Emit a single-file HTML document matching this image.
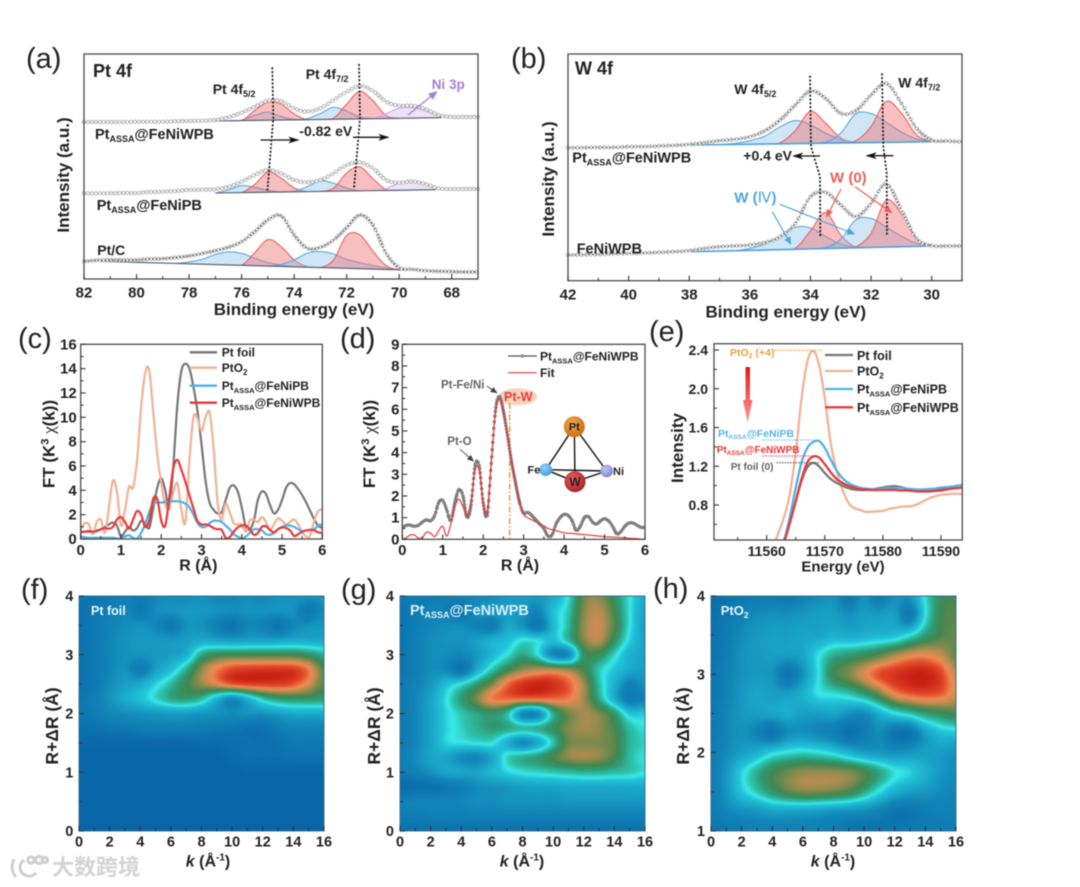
<!DOCTYPE html>
<html lang="en">
<head>
<meta charset="utf-8">
<title>XPS and XAFS characterisation figure</title>
<style>
html,body{margin:0;padding:0;background:#fff;}
#figure{position:relative;width:1080px;height:887px;overflow:hidden;background:#fff;filter:blur(.45px);}
#figure canvas{position:absolute;display:block;}
#figure svg{position:absolute;left:0;top:0;}
text{font-family:"Liberation Sans","Noto Sans CJK SC",sans-serif;fill:#222;}
.b{font-weight:700;}
.tag{font-size:29px;font-weight:400;fill:#222;}
</style>
</head>
<body>
<div id="figure">
<canvas id="hmF" width="245" height="235" style="left:79px;top:596px"></canvas>
<canvas id="hmG" width="245" height="235" style="left:400px;top:596px"></canvas>
<canvas id="hmH" width="245" height="235" style="left:711px;top:596px"></canvas>
<svg id="chart" width="1080" height="887" viewBox="0 0 1080 887" xmlns="http://www.w3.org/2000/svg">
<defs>
<marker id="mBlack" markerWidth="12" markerHeight="8" refX="10" refY="4" orient="auto" markerUnits="userSpaceOnUse"><path d="M0,.5 L11,4 L0,7.5 L3,4z" fill="#111"/></marker>
<marker id="mPurple" markerWidth="10" markerHeight="8" refX="8" refY="4" orient="auto" markerUnits="userSpaceOnUse"><path d="M0,0 L9,4 L0,8z" fill="#a77fd8"/></marker>
<marker id="mRed" markerWidth="9" markerHeight="7" refX="7" refY="3.5" orient="auto" markerUnits="userSpaceOnUse"><path d="M0,0 L8,3.5 L0,7z" fill="#e8605c"/></marker>
<marker id="mBlue" markerWidth="9" markerHeight="7" refX="7" refY="3.5" orient="auto" markerUnits="userSpaceOnUse"><path d="M0,0 L8,3.5 L0,7z" fill="#4da6e0"/></marker>
<marker id="mGray" markerWidth="8" markerHeight="6" refX="6" refY="3" orient="auto" markerUnits="userSpaceOnUse"><path d="M0,0 L7,3 L0,6z" fill="#444"/></marker>
<linearGradient id="gradDown" x1="0" y1="0" x2="0" y2="1"><stop offset="0" stop-color="#e01818"/><stop offset="1" stop-color="#ff9c9c"/></linearGradient>
<radialGradient id="ballPt" cx=".4" cy=".35" r=".7"><stop offset="0" stop-color="#f4a850"/><stop offset="1" stop-color="#c8690f"/></radialGradient>
<radialGradient id="ballW" cx=".4" cy=".35" r=".7"><stop offset="0" stop-color="#e86060"/><stop offset="1" stop-color="#a81f22"/></radialGradient>
<radialGradient id="ballFe" cx=".4" cy=".35" r=".7"><stop offset="0" stop-color="#8ed0f8"/><stop offset="1" stop-color="#3f9ce0"/></radialGradient>
<radialGradient id="ballNi" cx=".4" cy=".35" r=".7"><stop offset="0" stop-color="#c4c4f4"/><stop offset="1" stop-color="#8080d4"/></radialGradient>
<clipPath id="clipC"><rect x="80.7" y="344.3" width="241.6" height="194.7"/></clipPath>
<clipPath id="clipD"><rect x="402.3" y="344.3" width="242.7" height="195"/></clipPath>
<clipPath id="clipE"><rect x="714" y="343.7" width="248.3" height="196.3"/></clipPath>
</defs>

<g id="marksA"></g>
<g id="marksB"></g>
<g id="marksC" clip-path="url(#clipC)"></g>
<g id="calloutD">
<ellipse cx="517.7" cy="396.7" rx="19.5" ry="8.5" fill="#f9d3bc"/>
<line x1="509.7" y1="403" x2="509.7" y2="539" stroke="#e09a3c" stroke-width="1.4" stroke-dasharray="6 2 1.5 2"/>
</g>
<g id="marksD" clip-path="url(#clipD)"></g>
<g id="marksE" clip-path="url(#clipE)"></g>
<g id="axes"></g>

<!-- Panel tags -->
<text class="tag" x="26" y="68">(a)</text>
<text class="tag" x="511" y="68">(b)</text>
<text class="tag" x="18" y="348">(c)</text>
<text class="tag" x="340" y="348">(d)</text>
<text class="tag" x="649" y="341">(e)</text>
<text class="tag" x="21" y="599">(f)</text>
<text class="tag" x="341" y="599">(g)</text>
<text class="tag" x="653" y="598">(h)</text>

<!-- Panel a text -->
<text class="b" x="93" y="77" font-size="18">Pt 4f</text>
<text class="b" x="212.7" y="94" font-size="14">Pt 4f<tspan font-size="9" dy="3">5/2</tspan></text>
<text class="b" x="305.7" y="79" font-size="14">Pt 4f<tspan font-size="9" dy="3">7/2</tspan></text>
<text class="b" x="431.7" y="89" font-size="13.5" style="fill:#a77fd8">Ni 3p</text>
<line x1="408" y1="115" x2="436.7" y2="91.7" stroke="#a77fd8" stroke-width="1.3" marker-end="url(#mPurple)"/>
<text class="b" x="95" y="139" font-size="14.5">Pt<tspan font-size="9" dy="3">ASSA</tspan><tspan dy="-3">@FeNiWPB</tspan></text>
<text class="b" x="96.7" y="210" font-size="14.5">Pt<tspan font-size="9" dy="3">ASSA</tspan><tspan dy="-3">@FeNiPB</tspan></text>
<text class="b" x="97.3" y="255" font-size="14">Pt/C</text>
<text class="b" x="299.3" y="136" font-size="14">-0.82 eV</text>
<line x1="260.7" y1="140" x2="298.3" y2="140" stroke="#111" stroke-width="1.3" marker-end="url(#mBlack)"/>
<line x1="353" y1="137.3" x2="388.3" y2="137.3" stroke="#111" stroke-width="1.3" marker-end="url(#mBlack)"/>
<polyline points="272.3,67.3 273.3,118.3 267.3,191.7" fill="none" stroke="#111" stroke-width="1.7" stroke-dasharray="2 1.8"/>
<polyline points="359,64 360,118.3 354,188.3" fill="none" stroke="#111" stroke-width="1.7" stroke-dasharray="2 1.8"/>
<text class="b" x="294" y="315" font-size="17" text-anchor="middle">Binding energy (eV)</text>
<text class="b" transform="translate(69,175) rotate(-90)" font-size="17" text-anchor="middle">Intensity (a.u.)</text>

<!-- Panel b text -->
<text class="b" x="575" y="74.7" font-size="18">W 4f</text>
<text class="b" x="734.3" y="94" font-size="14">W 4f<tspan font-size="9" dy="3">5/2</tspan></text>
<text class="b" x="898.3" y="87.7" font-size="14">W 4f<tspan font-size="9" dy="3">7/2</tspan></text>
<text class="b" x="572.3" y="162.7" font-size="14.5">Pt<tspan font-size="9" dy="3">ASSA</tspan><tspan dy="-3">@FeNiWPB</tspan></text>
<text class="b" x="576.7" y="253.3" font-size="14.5">FeNiWPB</text>
<text class="b" x="743.3" y="160.7" font-size="14">+0.4 eV</text>
<line x1="820" y1="156" x2="793.3" y2="156" stroke="#111" stroke-width="1.3" marker-end="url(#mBlack)"/>
<line x1="893.3" y1="155.7" x2="866.7" y2="155.7" stroke="#111" stroke-width="1.3" marker-end="url(#mBlack)"/>
<polyline points="810,75.7 811,146.7 820,176.7 820.3,236.7" fill="none" stroke="#111" stroke-width="1.7" stroke-dasharray="2 1.8"/>
<polyline points="882,73.3 883.3,146.7 886.7,173.3 887,235" fill="none" stroke="#111" stroke-width="1.7" stroke-dasharray="2 1.8"/>
<text class="b" x="830" y="182.7" font-size="15" style="fill:#e8605c">W (0)</text>
<text class="b" x="734.3" y="202.7" font-size="15" style="fill:#4da6e0">W (<tspan font-family="Liberation Serif" font-weight="400">Ⅳ</tspan>)</text>
<line x1="841" y1="189" x2="826.7" y2="216.7" stroke="#e8605c" stroke-width="1.2" marker-end="url(#mRed)"/>
<line x1="855" y1="186.7" x2="891.7" y2="212.7" stroke="#e8605c" stroke-width="1.2" marker-end="url(#mRed)"/>
<line x1="780" y1="204.3" x2="854.3" y2="234" stroke="#4da6e0" stroke-width="1.2" marker-end="url(#mBlue)"/>
<line x1="772.3" y1="211.7" x2="790.7" y2="244" stroke="#4da6e0" stroke-width="1.2" marker-end="url(#mBlue)"/>
<text class="b" x="785.8" y="317.3" font-size="17" text-anchor="middle">Binding energy (eV)</text>
<text class="b" transform="translate(554,179) rotate(-90)" font-size="17" text-anchor="middle">Intensity (a.u.)</text>

<!-- Panel c text -->
<text class="b" transform="translate(54.3,444) rotate(-90)" font-size="17" text-anchor="middle">FT (K<tspan font-size="11" dy="-6">3</tspan><tspan dy="6"> </tspan><tspan font-family="Liberation Serif" font-weight="400">χ</tspan>(k))</text>
<text class="b" x="198.3" y="570.7" font-size="16" text-anchor="middle">R (Å)</text>
<g>
<line x1="189.7" y1="352.3" x2="217" y2="352.3" stroke="#777" stroke-width="2.3"/>
<line x1="189.7" y1="367.7" x2="217" y2="367.7" stroke="#f0b295" stroke-width="2.3"/>
<line x1="189.7" y1="385.7" x2="217" y2="385.7" stroke="#4db2e8" stroke-width="2.3"/>
<line x1="189.7" y1="402.7" x2="217" y2="402.7" stroke="#e8393c" stroke-width="2.3"/>
<text class="b" x="221.7" y="356.5" font-size="12">Pt foil</text>
<text class="b" x="221.7" y="372" font-size="12">PtO<tspan font-size="8" dy="3">2</tspan></text>
<text class="b" x="221.7" y="390" font-size="12">Pt<tspan font-size="7.5" dy="3">ASSA</tspan><tspan dy="-3">@FeNiPB</tspan></text>
<text class="b" x="221.7" y="407" font-size="12">Pt<tspan font-size="7.5" dy="3">ASSA</tspan><tspan dy="-3">@FeNiWPB</tspan></text>
</g>

<!-- Panel d text -->
<text class="b" transform="translate(375,444) rotate(-90)" font-size="17" text-anchor="middle">FT (K<tspan font-size="11" dy="-6">3</tspan><tspan dy="6"> </tspan><tspan font-family="Liberation Serif" font-weight="400">χ</tspan>(k))</text>
<text class="b" x="520" y="570.7" font-size="16" text-anchor="middle">R (Å)</text>
<g>
<line x1="508" y1="356" x2="536.7" y2="356" stroke="#555" stroke-width="1.2"/>
<circle cx="522.3" cy="356" r="1.7" fill="#888"/>
<line x1="508" y1="372.7" x2="536.7" y2="372.7" stroke="#e8393c" stroke-width="1.2"/>
<text class="b" x="540" y="360.5" font-size="12">Pt<tspan font-size="7.5" dy="3">ASSA</tspan><tspan dy="-3">@FeNiWPB</tspan></text>
<text class="b" x="540" y="377" font-size="12">Fit</text>
</g>
<text class="b" x="441" y="388.3" font-size="11.5" style="fill:#666">Pt-Fe/Ni</text>
<line x1="486.7" y1="386" x2="496.7" y2="392.7" stroke="#444" stroke-width=".9" marker-end="url(#mGray)"/>
<text class="b" x="504" y="401" font-size="12.5" style="fill:#e8393c">Pt-W</text>
<text class="b" x="447.3" y="445" font-size="11.5" style="fill:#666">Pt-O</text>
<line x1="460" y1="449.3" x2="473.3" y2="461" stroke="#444" stroke-width=".9" marker-end="url(#mGray)"/>
<g>
<g stroke="#111" stroke-width="1.4">
<line x1="574.3" y1="426.7" x2="545.7" y2="469.7"/>
<line x1="574.3" y1="426.7" x2="606.7" y2="471"/>
<line x1="574.3" y1="426.7" x2="575" y2="481.7"/>
<line x1="545.7" y1="469.7" x2="606.7" y2="471"/>
<line x1="545.7" y1="469.7" x2="575" y2="481.7"/>
<line x1="606.7" y1="471" x2="575" y2="481.7"/>
</g>
<circle cx="574.3" cy="426.7" r="10.5" fill="url(#ballPt)"/>
<circle cx="575" cy="481.7" r="10.5" fill="url(#ballW)"/>
<circle cx="545.7" cy="469.7" r="6.3" fill="url(#ballFe)"/>
<circle cx="606.7" cy="471" r="6.3" fill="url(#ballNi)"/>
<text class="b" x="574.3" y="430.5" font-size="11" text-anchor="middle">Pt</text>
<text class="b" x="575" y="486" font-size="12" text-anchor="middle">W</text>
<text class="b" x="527.5" y="473.5" font-size="11">Fe</text>
<text class="b" x="613" y="475" font-size="11">Ni</text>
</g>

<!-- Panel e text -->
<text class="b" transform="translate(683,448) rotate(-90)" font-size="17" text-anchor="middle">Intensity</text>
<text class="b" x="843" y="571.6" font-size="15" text-anchor="middle">Energy (eV)</text>
<g>
<line x1="825" y1="355" x2="853" y2="355" stroke="#777" stroke-width="2.3"/>
<line x1="825" y1="371" x2="853" y2="371" stroke="#f0b295" stroke-width="2.3"/>
<line x1="825" y1="389" x2="853" y2="389" stroke="#4db2e8" stroke-width="2.3"/>
<line x1="825" y1="407.3" x2="853" y2="407.3" stroke="#e8393c" stroke-width="2.3"/>
<text class="b" x="857" y="360" font-size="12.5">Pt foil</text>
<text class="b" x="857" y="375.5" font-size="12.5">PtO<tspan font-size="8" dy="3">2</tspan></text>
<text class="b" x="857" y="393.5" font-size="12.5">Pt<tspan font-size="7.5" dy="3">ASSA</tspan><tspan dy="-3">@FeNiPB</tspan></text>
<text class="b" x="857" y="412" font-size="12.5">Pt<tspan font-size="7.5" dy="3">ASSA</tspan><tspan dy="-3">@FeNiWPB</tspan></text>
</g>
<text class="b" x="730" y="356" font-size="10.5" style="fill:#e8a03c">PtO<tspan font-size="7" dy="2">2</tspan><tspan dy="-2"> (+4)</tspan></text>
<line x1="774" y1="350.3" x2="823" y2="350.3" stroke="#e8a03c" stroke-width="1.1" stroke-dasharray="1.5 1.2"/>
<polygon points="745.5,367 750,367 750,400 752.5,400 747.7,423 743,400 745.5,400" fill="url(#gradDown)"/>
<text class="b" x="718" y="437" font-size="10.5" style="fill:#5ab4ea">Pt<tspan font-size="6.5" dy="2">ASSA</tspan><tspan dy="-2">@FeNiPB</tspan></text>
<line x1="762" y1="440" x2="818" y2="440" stroke="#5ab4ea" stroke-width="1.1" stroke-dasharray="1.5 1.2"/>
<text class="b" x="716.7" y="453" font-size="10" style="fill:#e8393c">Pt<tspan font-size="6.5" dy="2">ASSA</tspan><tspan dy="-2">@FeNiWPB</tspan></text>
<line x1="762" y1="456" x2="818" y2="456" stroke="#e8393c" stroke-width="1.1" stroke-dasharray="1.5 1.2"/>
<text class="b" x="730.7" y="470" font-size="10" style="fill:#666">Pt foil (0)</text>
<line x1="776.7" y1="462.7" x2="820" y2="462.7" stroke="#555" stroke-width="1.1" stroke-dasharray="1.5 1.2"/>

<!-- Heatmap text -->
<text class="b" x="91" y="615" font-size="12.5" style="fill:#e6f6fb">Pt foil</text>
<text class="b" x="410" y="615" font-size="14.5" style="fill:#d8f0f8">Pt<tspan font-size="9" dy="3">ASSA</tspan><tspan dy="-3">@FeNiWPB</tspan></text>
<text class="b" x="720.7" y="615" font-size="13" style="fill:#e6f6fb">PtO<tspan font-size="8.5" dy="3">2</tspan></text>
<text class="b" transform="translate(58,726) rotate(-90)" font-size="17.5" text-anchor="middle">R+ΔR (Å)</text>
<text class="b" transform="translate(380,726) rotate(-90)" font-size="17.5" text-anchor="middle">R+ΔR (Å)</text>
<text class="b" transform="translate(689,726) rotate(-90)" font-size="17.5" text-anchor="middle">R+ΔR (Å)</text>
<text class="b" x="208" y="866.5" font-size="16" text-anchor="middle"><tspan font-style="italic">k</tspan> (Å<tspan font-size="10" dy="-6">-1</tspan><tspan dy="6">)</tspan></text>
<text class="b" x="522" y="866.5" font-size="16" text-anchor="middle"><tspan font-style="italic">k</tspan> (Å<tspan font-size="10" dy="-6">-1</tspan><tspan dy="6">)</tspan></text>
<text class="b" x="833" y="866.5" font-size="16" text-anchor="middle"><tspan font-style="italic">k</tspan> (Å<tspan font-size="10" dy="-6">-1</tspan><tspan dy="6">)</tspan></text>

<!-- Watermark -->
<g>
<g fill="none" stroke="#cfcfcf" stroke-width="3">
<path d="M14,859 C11,866 12,873 16,877"/>
<path d="M24,860 C18,865 19,872 25,875 C29,877 33,876 36,873"/>
<circle cx="31" cy="860" r="3.2"/>
<circle cx="39" cy="860" r="3.6"/>
<circle cx="45" cy="860" r="2.6"/>
</g>
<text x="52" y="875" font-size="22" font-weight="700" style="fill:#d4d4d4;font-family:'Noto Sans CJK SC',sans-serif">大数跨境</text>
</g>
</svg>
</div>

<script>
/* ---------- Panel a: Pt 4f XPS (intensity in display units above axis floor) ---------- */
const aEnergyStart = 82;
const aEnergyStep = 0.5;
const aTickLabels = [82,80,78,76,74,72,70,68];
const aMinorTicks = [81,79,77,75,73,71,69];
const aEnvTop = [157,157,157,157,157.3,157.3,157.3,157.7,158,158.3,159,161.7,166.3,172.3,178.3,178,170.7,167.3,170.7,179,187.3,193,188.3,177.3,173.3,173.3,170,164,162,162,162];
const aEnvMid = [85.7,85.7,85.7,86,86,87,87.3,88,89,89.3,89.7,92.3,97.3,104,109,105.7,99,96.7,99,105.7,114,116.7,110.7,99,96.3,97.7,95,90.7,90,90,90];
const aEnvLow = [17.7,18.7,19,19,19,20,20.3,21.5,23,25.5,28.3,31.7,37.3,47.3,59,63.3,44,30.7,31.7,39,51.3,64,54,25.7,11.3,9.7,8.3,7.7,7.3,7,7];
const aBaseTopE = [77,68.4];
const aBaseTopV = [158,161.3];
const aBaseMidE = [77,68.6];
const aBaseMidV = [86,89.3];
const aBaseLowE = [81.4,69.8];
const aBaseLowV = [17.7,9];
const aTopRed1 = [0,10,18,16,6,0];
const aTopBlue1 = [0,0.5,5,8,3.5,0.5,0];
const aTopRed2 = [0,1,15,27.5,18,3,0];
const aTopBlue2 = [0,1,6,12,8,2,0];
const aTopPurple = [0,5,10,10.5,7,1.5,0];
const aMidRed1 = [0,8,20,14,4,0];
const aMidBlue1 = [0,3,7,5,2,0];
const aMidRed2 = [0,3,18,24,12,1,0];
const aMidBlue2 = [0,0.5,5,10.5,8,3,0];
const aMidPurple = [0,2,7,8,6,0.5,0];
const aLowBlue1 = [0,2,5,10,13,12,7.5,3.5,1.5,0];
const aLowRed1 = [0,13,26.5,20,7,0.5,0];
const aLowBlue2 = [0,2,7,14,16,14,9,6,3.5,1.5,0];
const aLowRed2 = [0,8,33,34,18,4,0];

/* ---------- Panel b: W 4f XPS ---------- */
const bEnergyStart = 42;
const bEnergyStep = 0.5;
const bTickLabels = [42,40,38,36,34,32,30];
const bMinorTicks = [41,39,37,35,33,31,29];
const bEnvTop = [133,133,133.3,133.3,134,134,134.7,135.3,136.3,138,140,141.3,144,150,160.7,175.7,189.7,182.3,167.3,170,185.7,197.3,177.3,152.3,140.7,139.7,139];
const bEnvLow = [25.7,26,26.3,27,27.3,27.7,28.3,29,30,32.3,34,34.7,35.7,38.3,44,57.3,84,88.3,75.7,64,77.3,96.7,70.7,42.3,35,34.7,34.7];
const bBaseTopE = [37.9,30];
const bBaseTopV = [135.7,139];
const bBaseLowE = [37.9,30];
const bBaseLowV = [29,34.7];
const bTopBlue1 = [0,1,3.5,8,17,23,18.5,10,3.5,0.5,0];
const bTopRed1 = [0,1,13,32,20,5,0];
const bTopBlue2 = [0,1,10,29,29,20,10,3,0.5,0];
const bTopRed2 = [0,2,16,41,29,7,0.5,0];
const bLowBlue1 = [0,2,6,13,22,21,12,4,1,0];
const bLowRed1 = [0,1,18,36,13,0.5,0];
const bLowBlue2 = [0,1,9,28,29,20,10.5,3,0.5,0];
const bLowRed2 = [0,1,14,47,33,8,1,0];

/* ---------- Panel c: FT-EXAFS ---------- */
const cTickX = [0,1,2,3,4,5,6];
const cMinorX = [0.5,1.5,2.5,3.5,4.5,5.5];
const cTickY = [0,2,4,6,8,10,12,14,16];
const cMinorY = [1,3,5,7,9,11,13,15];
const cPtFoil = [.6,.6,.6,.6,.7,.8,1,1.2,1.35,1.1,.2,.6,1,.7,.9,1.5,1.3,.9,2.5,4.2,5,4,2.5,6,11,13.8,14.4,14,12.5,10.5,7.8,4.8,3,2.4,2.1,2.2,3.2,4.2,4.4,3.9,2.6,1,.8,1.5,3.2,3.9,3.7,2.8,2.1,2.4,3.2,4.2,4.6,4.5,4.1,3.6,3,2.3,1.6,1.1,.9];
const cPtO2 = [.8,1.3,1.2,.4,1.4,1.6,.5,2.6,4.8,3.9,1.1,2.4,4.3,4.2,6.5,10.8,13.6,13.9,10.5,7,4.6,2.8,2.6,3.8,4.6,2.4,1.4,6.5,10,9.9,8.9,10,10.4,7.5,3,1.6,2.9,2.2,1.3,1.2,1.2,.6,1.5,1.6,1.4,1.8,1.4,.7,1.2,1.7,1.5,1.2,1.4,1.6,1.2,.6,.2,.3,1.5,2.3,2.4];
const cFeNiPB = [.2,.15,.1,.1,.1,.1,.1,.1,.1,.05,.05,.2,.3,.1,.05,.5,1.2,2.2,2.9,3,3,3.05,3.1,3.1,3.1,3.05,2.9,2.6,2,1.3,1,1,1.3,1.5,1.5,1.4,1.1,.8,.4,.2,.05,.2,.5,.8,.8,.7,.4,.35,.5,.8,1,1.1,1.1,1,.8,.65,.7,.75,.8,1.1,1.2];
const cFeNiWPB = [.55,.6,.65,.6,.65,.8,.9,.85,1,1.6,1.8,1.4,.85,1.6,2.3,2,1,1.5,3.3,3.3,1.5,1.1,3.4,5.8,6.5,5.7,4.7,3.6,2.5,1.5,1.2,1.2,1.1,.9,.8,.75,.1,.15,.6,.95,1.1,1.1,.8,.35,.5,1,1.05,.75,.55,.8,.95,.9,.7,.25,.4,.6,.7,.75,.7,.55,.5];

/* ---------- Panel d: FT-EXAFS fit ---------- */
const dTickX = [0,1,2,3,4,5,6];
const dMinorX = [0.5,1.5,2.5,3.5,4.5,5.5];
const dTickY = [0,1,2,3,4,5,6,7,8,9];
const dMinorY = [.5,1.5,2.5,3.5,4.5,5.5,6.5,7.5,8.5];
const dMeasured = [.55,.65,.65,.6,.65,.8,.9,.85,1.1,1.7,1.8,1.35,.85,1.7,2.3,2,1,1.6,3.4,3.4,1.7,1.1,3.5,5.9,6.6,5.9,4.8,3.6,2.6,1.7,1.2,1.25,1.1,.9,.7,.5,.15,.2,.7,1,1.15,1.1,.85,.4,.6,1,1.05,.8,.7,.85,.95,.85,.6,.25,.35,.6,.75,.75,.65,.55,.55];
const dFit = [0,.08,.2,.2,.05,.1,.33,.28,.13,.4,.6,.15,.7,1.5,1.85,1.5,1.1,1.8,3.2,3.2,1.6,1.3,3.6,5.8,6.5,5.9,4.8,3.6,2.6,1.7,1.15,1,.9,.8,.7,.62,.5,.45,.4,.35,.3,.28,.27,.25,.23,.22,.2,.18,.16,.14,.12,.11,.1,.09,.08,.07,.05,.04,.03,.01,0];

/* ---------- Panel e: XANES ---------- */
const eTickX = [11560,11570,11580,11590];
const eMinorX = [11555,11565,11575,11585];
const eTickY = [0.8,1.2,1.6,2.0,2.4];
const eMinorY = [0.6,1.0,1.4,1.8,2.2];
const eEnergy = [11561,11562,11563,11564,11565,11566,11567,11568,11569,11570,11571,11572,11573,11574,11575,11576,11577,11578,11579,11580,11581,11582,11583,11584,11585,11586,11587,11588,11589,11590,11591,11592,11593,11594];
const ePtFoil = [.14,.28,.42,.62,.84,1.05,1.19,1.235,1.2,1.13,1.07,1.03,1,.975,.96,.955,.955,.96,.97,.98,.99,.995,.985,.97,.96,.955,.955,.96,.965,.97,.98,.99,1,1.005];
const ePtO2 = [.37,.51,.68,.92,1.35,1.9,2.28,2.39,2.25,1.9,1.45,1.16,.97,.83,.77,.75,.73,.73,.735,.74,.76,.77,.78,.785,.79,.81,.84,.87,.89,.905,.91,.915,.915,.915];
const eFeNiPB = [.15,.3,.44,.68,.98,1.24,1.39,1.45,1.46,1.39,1.27,1.16,1.08,1.03,1,.98,.97,.965,.965,.97,.975,.975,.975,.97,.965,.96,.96,.965,.97,.98,.985,.99,1,1.01];
const eFeNiWPB = [.14,.28,.42,.62,.84,1.07,1.24,1.3,1.29,1.22,1.14,1.07,1.03,1,.98,.965,.96,.955,.955,.955,.955,.955,.95,.95,.945,.94,.94,.94,.945,.95,.96,.97,.975,.98];

/* ---------- Panels f, g, h: wavelet maps, 0-100 intensity; rows top to bottom, columns k=0..16 ---------- */
const hmTickK = [0,2,4,6,8,10,12,14,16];
const hmMinorK = [1,3,5,7,9,11,13,15];
const fgTickR = [0,1,2,3,4];
const fgMinorR = [0.5,1.5,2.5,3.5];
const hTickR = [1,2,3,4];
const hMinorR = [1.5,2.5,3.5];
const fGrid = [
[10,10,13,16,14,20,22,22,24,20,20,22,20,24,24,24,24],
[8,11,16,20,13,22,24,26,26,24,22,24,24,24,24,12,22],
[8,12,18,22,24,20,12,24,24,16,10,20,18,10,20,24,26],
[8,12,20,24,26,26,26,28,32,30,28,30,30,30,32,32,32],
[8,12,20,24,24,26,28,34,56,64,66,66,66,66,66,62,54],
[8,12,20,24,14,28,38,54,74,86,93,95,96,96,95,87,68],
[8,12,22,28,32,42,52,64,74,82,90,93,94,94,91,82,68],
[10,16,24,32,38,47,55,58,52,35,22,35,50,58,60,60,58],
[12,14,20,22,24,26,28,28,26,24,22,24,24,28,32,32,32],
[6,8,11,12,15,17,17,17,15,13,12,8,8,15,19,19,19],
[2,2,2,3,3,3,3,3,4,4,5,6,6,8,12,12,12],
[0,0,0,0,0,0,0,0,0,0,4,6,6,6,8,8,8],
[0,0,0,0,0,0,0,0,0,0,0,1,1,1,1,1,1],
[0,0,0,0,0,0,0,0,0,0,0,0,0,0,0,0,0],
[0,0,0,0,0,0,0,0,0,0,0,0,0,0,0,0,0],
[0,0,0,0,0,0,0,0,0,0,0,0,0,0,0,0,0],
[0,0,0,0,0,0,0,0,0,0,0,0,0,0,0,0,0]
];
const gGrid = [
[12,14,14,16,18,20,22,26,28,26,32,46,70,74,62,46,32],
[10,14,18,16,10,24,26,28,26,20,38,50,72,78,66,46,30],
[10,14,20,22,22,18,14,30,24,12,36,52,74,80,68,46,28],
[10,16,22,24,24,28,34,38,46,44,38,52,72,78,62,42,30],
[10,16,22,22,20,26,36,46,56,46,22,22,60,62,48,34,30],
[10,16,22,20,10,32,50,64,74,78,78,74,66,50,40,32,28],
[12,18,26,38,46,58,72,88,96,99,97,90,76,52,34,18,24],
[12,20,30,44,58,72,86,88,88,88,88,86,76,56,34,14,18],
[12,20,30,42,50,56,60,52,22,22,54,70,76,72,60,40,40],
[12,20,30,42,48,54,58,56,52,54,62,72,76,74,66,52,46],
[12,20,30,42,44,46,46,34,22,32,50,70,72,72,68,54,48],
[14,22,30,30,22,20,30,48,54,58,66,74,76,74,66,52,46],
[14,18,24,30,30,30,36,42,46,48,50,52,54,54,52,50,46],
[4,6,8,12,16,22,24,26,28,30,30,32,32,32,32,32,32],
[16,18,18,18,20,22,22,24,24,24,24,26,26,26,26,26,26],
[14,14,16,16,16,18,18,18,18,18,18,18,18,18,18,18,18],
[8,8,8,8,8,8,8,8,8,8,8,8,8,8,8,8,8]
];
const hGrid = [
[4,8,12,14,14,12,18,22,24,12,24,14,24,24,46,62,66],
[6,12,18,22,24,24,26,28,28,24,28,28,28,14,44,64,68],
[8,14,22,26,28,28,30,30,34,32,34,36,38,46,58,66,70],
[8,16,24,26,28,28,30,44,54,58,62,68,76,82,84,80,70],
[10,18,24,26,24,10,24,44,64,72,82,92,96,99,100,94,80],
[10,18,26,30,28,28,34,44,46,50,58,70,84,90,92,90,82],
[12,20,26,28,30,32,28,28,30,24,22,34,44,50,58,62,66],
[12,20,24,18,10,22,24,20,16,8,14,22,10,10,28,38,40],
[14,22,28,34,42,46,48,46,42,34,28,26,24,26,28,28,24],
[14,26,42,54,64,70,74,74,74,72,66,56,46,42,34,26,22],
[14,26,40,50,60,68,72,72,70,66,56,44,34,28,26,22,20],
[14,20,24,26,30,30,30,28,26,24,22,18,10,10,14,16,16],
[10,12,14,16,16,16,16,16,14,10,8,8,10,12,14,14,14]
];
const colorStops = [0,20,30,40,45,50,58,65,72,78,85,92,100];
const colorHex = ['#0866a8','#1286b8','#1aa5c8','#22c4d8','#3ae8e8','#2cc4ae','#2f9a74','#3f8750','#7a8a4c','#b88c50','#f08a52','#e24a2a','#c71f12'];

/* ---------- Scales and helpers ---------- */
const NS = 'http://www.w3.org/2000/svg';
function lin(d0,d1,r0,r1){return v=>r0+(v-d0)*(r1-r0)/(d1-d0);}
const frameA={l:84,r:478,t:54,b:279,name:'a'};
const frameB={l:568,r:962,t:54,b:280.7,name:'b'};
const frameC={l:80.7,r:322.3,t:344.3,b:539,name:'c'};
const frameD={l:402.3,r:645,t:344.3,b:539.3,name:'d'};
const frameE={l:714,r:962.3,t:343.7,b:540,name:'e'};
const frameF={l:79,r:324,t:596,b:831,name:'f'};
const frameG={l:400,r:645,t:596,b:831,name:'g'};
const frameH={l:711,r:956,t:596,b:831,name:'h'};
const xA=lin(82,68,84,451.7), yA=lin(0,225,279,54);
const xB=lin(42,30,568,931.7), yB=lin(0,226.7,280.7,54);
const xC=lin(0,6,80.7,322.3), yC=lin(0,16,539,344.3);
const xD=lin(0,6,402.3,645), yD=lin(0,9,539.3,344.3);
const xE=lin(11560,11590,766.7,941), yE=lin(.8,2.4,505,350);
const xF=lin(0,16,79,324), yF=lin(0,4,831,596);
const xG=lin(0,16,400,645), yG=yF;
const xH=lin(0,16,711,956), yH=lin(1,4,831,596);

function add(tag,attrs,parent){
  const el=document.createElementNS(NS,tag);
  for(const k in attrs){el.setAttribute(k,attrs[k]);}
  parent.appendChild(el);
  return el;
}
function spline(xs,ys,sub){
  const out=[];
  const n=xs.length;
  for(let i=0;i<n-1;i++){
    const p0=ys[Math.max(i-1,0)],p1=ys[i],p2=ys[i+1],p3=ys[Math.min(i+2,n-1)];
    for(let s=0;s<sub;s++){
      const t=s/sub;
      const y=.5*((2*p1)+(-p0+p2)*t+(2*p0-5*p1+4*p2-p3)*t*t+(-p0+3*p1-3*p2+p3)*t*t*t);
      out.push([xs[i]+(xs[i+1]-xs[i])*t,y]);
    }
  }
  out.push([xs[n-1],ys[n-1]]);
  return out;
}
function pathOf(pts){
  return 'M'+pts.map(p=>p[0].toFixed(2)+','+p[1].toFixed(2)).join('L');
}
function resample(pts,gap){
  const res=[pts[0]];
  let acc=0;
  for(let i=1;i<pts.length;i++){
    acc+=Math.hypot(pts[i][0]-pts[i-1][0],pts[i][1]-pts[i-1][1]);
    if(acc>=gap){res.push(pts[i]);acc=0;}
  }
  return res;
}
function gridOf(start,step,count){
  const g=[];
  for(let i=0;i<count;i++){g.push(start+step*i);}
  return g;
}
function baseAt(E,baseE,baseV){
  const t=Math.min(1,Math.max(0,(E-baseE[0])/(baseE[1]-baseE[0])));
  return baseV[0]+(baseV[1]-baseV[0])*t;
}
function drawComponent(parent,name,startE,vals,baseE,baseV,xS,yS,line,fill){
  const es=gridOf(startE,-0.5,vals.length);
  const dense=spline(es,vals,8).map(p=>[xS(p[0]),yS(baseAt(p[0],baseE,baseV)+Math.max(0,p[1])),p[0]]);
  const floor=dense.slice().reverse().map(p=>[p[0],yS(baseAt(p[2],baseE,baseV))]);
  const area=add('path',{d:pathOf(dense)+'L'+pathOf(floor).slice(1)+'Z',fill:fill,stroke:'none'},parent);
  
  
  const curve=add('path',{d:pathOf(dense),fill:'none',stroke:line,'stroke-width':1.1},parent);
  
  
}
function drawBaseline(parent,name,baseE,baseV,xS,yS,color,width){
  const ln=add('line',{x1:xS(baseE[0]),y1:yS(baseV[0]),x2:xS(baseE[1]),y2:yS(baseV[1]),stroke:color,'stroke-width':width},parent);
  
  
}
function drawEnvelope(parent,name,startE,step,vals,xS,yS,dashOpacity){
  const es=gridOf(startE,-step,vals.length);
  const dense=spline(es,vals,10).map(p=>[xS(p[0]),yS(p[1])]);
  resample(dense,3.3).forEach(p=>{
    const c=add('circle',{cx:p[0].toFixed(2),cy:p[1].toFixed(2),r:1.7,fill:'#fff',stroke:'#a8a8a8','stroke-width':.8},parent);
    
    
  });
  const fit=add('path',{d:pathOf(dense),fill:'none',stroke:'#222','stroke-width':.9,'stroke-dasharray':'1.8 1.6','stroke-opacity':dashOpacity},parent);
  
  
}
function drawLine(parent,name,xs,ys,xS,yS,color,width){
  const dense=spline(xs,ys,8).map(p=>[xS(p[0]),yS(p[1])]);
  const ln=add('path',{d:pathOf(dense),fill:'none',stroke:color,'stroke-width':width,'stroke-linejoin':'round'},parent);
  
  
  return dense;
}
function drawFrame(frame,xS,yS,opts){
  const g=document.getElementById('axes');
  const r=add('rect',{x:frame.l,y:frame.t,width:frame.r-frame.l,height:frame.b-frame.t,fill:'none',stroke:opts.stroke||'#4a4a4a','stroke-width':opts.sw||1.3},g);
  
  
  opts.xMajor.forEach((v,i)=>{
    const t=add('line',{x1:xS(v),x2:xS(v),y1:frame.b,y2:frame.b-5,stroke:'#333','stroke-width':1.1},g);
    
    
    const lab=add('text',{x:xS(v),y:opts.xLabelY,'text-anchor':'middle','font-size':opts.fs,class:'b'},g);
    lab.textContent=String(v);
    
    
  });
  opts.xMinor.forEach(v=>{
    const t=add('line',{x1:xS(v),x2:xS(v),y1:frame.b,y2:frame.b-3,stroke:'#333','stroke-width':1},g);
    
    
  });
  if(opts.yMajor){
    opts.yMajor.forEach(v=>{
      const y=yS(v);
      const t=add('line',{x1:frame.l,x2:frame.l+5,y1:y,y2:y,stroke:'#333','stroke-width':1.1},g);
      
      
      const lab=add('text',{x:opts.yLabelX,y:y+5,'text-anchor':'end','font-size':opts.fs,class:'b'},g);
      lab.textContent=opts.yFixed?v.toFixed(opts.yFixed):String(v);
      
      
    });
    opts.yMinor.forEach(v=>{
      const y=yS(v);
      if(y<frame.t||y>frame.b){return;}
      const t=add('line',{x1:frame.l,x2:frame.l+3,y1:y,y2:y,stroke:'#333','stroke-width':1},g);
      
      
    });
  }
}
function hexRgb(h){return [parseInt(h.slice(1,3),16),parseInt(h.slice(3,5),16),parseInt(h.slice(5,7),16)];}
const colorRgb=colorHex.map(hexRgb);
function colorAt(v){
  const c=Math.max(0,Math.min(100,v));
  let i=0;
  while(i<colorStops.length-2&&c>colorStops[i+1]){i++;}
  const t=(c-colorStops[i])/(colorStops[i+1]-colorStops[i]);
  return [0,1,2].map(j=>colorRgb[i][j]+(colorRgb[i+1][j]-colorRgb[i][j])*t);
}
function cr(a,b,c,d,t){
  return .5*((2*b)+(-a+c)*t+(2*a-5*b+4*c-d)*t*t+(-a+3*b-3*c+d)*t*t*t);
}
function paintHeatmap(id,grid){
  const cv=document.getElementById(id);
  const ctx=cv.getContext('2d');
  const W=cv.width,H=cv.height;
  const img=ctx.createImageData(W,H);
  const rows=grid.length,cols=grid[0].length;
  const at=(r,c)=>grid[Math.max(0,Math.min(rows-1,r))][Math.max(0,Math.min(cols-1,c))];
  for(let py=0;py<H;py++){
    const fy=py/(H-1)*(rows-1);
    const r=Math.min(Math.floor(fy),rows-2),ty=fy-r;
    for(let px=0;px<W;px++){
      const fx=px/(W-1)*(cols-1);
      const c=Math.min(Math.floor(fx),cols-2),tx=fx-c;
      const col=[-1,0,1,2].map(dr=>cr(at(r+dr,c-1),at(r+dr,c),at(r+dr,c+1),at(r+dr,c+2),tx));
      const rgb=colorAt(cr(col[0],col[1],col[2],col[3],ty));
      const o=(py*W+px)*4;
      img.data[o]=rgb[0];img.data[o+1]=rgb[1];img.data[o+2]=rgb[2];img.data[o+3]=255;
    }
  }
  ctx.putImageData(img,0,0);
}

/* ---------- Draw ---------- */
const RED_LINE='#e8635f',RED_FILL='rgba(238,112,112,.45)';
const BLUE_LINE='#5aa7df',BLUE_FILL='rgba(130,190,235,.38)';
const PUR_LINE='#cba8ea',PUR_FILL='rgba(200,165,232,.32)';

const gA=document.getElementById('marksA');
drawComponent(gA,'pt-top-blue-5-2',76.5,aTopBlue1,aBaseTopE,aBaseTopV,xA,yA,BLUE_LINE,BLUE_FILL);
drawComponent(gA,'pt-top-red-5-2',76,aTopRed1,aBaseTopE,aBaseTopV,xA,yA,RED_LINE,RED_FILL);
drawComponent(gA,'pt-top-blue-7-2',74,aTopBlue2,aBaseTopE,aBaseTopV,xA,yA,BLUE_LINE,BLUE_FILL);
drawComponent(gA,'pt-top-red-7-2',73,aTopRed2,aBaseTopE,aBaseTopV,xA,yA,RED_LINE,RED_FILL);
drawComponent(gA,'pt-top-ni-3p',71,aTopPurple,aBaseTopE,aBaseTopV,xA,yA,PUR_LINE,PUR_FILL);
drawBaseline(gA,'pt-top-baseline',aBaseTopE,aBaseTopV,xA,yA,'#4d5a6a',1.1);
drawEnvelope(gA,'pt-top-envelope',aEnergyStart,aEnergyStep,aEnvTop,xA,yA,.15);
drawComponent(gA,'pt-mid-blue-5-2',77,aMidBlue1,aBaseMidE,aBaseMidV,xA,yA,BLUE_LINE,BLUE_FILL);
drawComponent(gA,'pt-mid-red-5-2',76,aMidRed1,aBaseMidE,aBaseMidV,xA,yA,RED_LINE,RED_FILL);
drawComponent(gA,'pt-mid-blue-7-2',74.5,aMidBlue2,aBaseMidE,aBaseMidV,xA,yA,BLUE_LINE,BLUE_FILL);
drawComponent(gA,'pt-mid-red-7-2',73,aMidRed2,aBaseMidE,aBaseMidV,xA,yA,RED_LINE,RED_FILL);
drawComponent(gA,'pt-mid-ni-3p',71,aMidPurple,aBaseMidE,aBaseMidV,xA,yA,PUR_LINE,PUR_FILL);
drawBaseline(gA,'pt-mid-baseline',aBaseMidE,aBaseMidV,xA,yA,'#4d5a6a',1.1);
drawEnvelope(gA,'pt-mid-envelope',aEnergyStart,aEnergyStep,aEnvMid,xA,yA,.15);
drawComponent(gA,'pt-low-blue-5-2',78.5,aLowBlue1,aBaseLowE,aBaseLowV,xA,yA,BLUE_LINE,BLUE_FILL);
drawComponent(gA,'pt-low-red-5-2',76,aLowRed1,aBaseLowE,aBaseLowV,xA,yA,RED_LINE,RED_FILL);
drawComponent(gA,'pt-low-blue-7-2',75,aLowBlue2,aBaseLowE,aBaseLowV,xA,yA,BLUE_LINE,BLUE_FILL);
drawComponent(gA,'pt-low-red-7-2',73,aLowRed2,aBaseLowE,aBaseLowV,xA,yA,RED_LINE,RED_FILL);
drawBaseline(gA,'pt-low-baseline',aBaseLowE,aBaseLowV,xA,yA,'#4d5a6a',1.1);
drawEnvelope(gA,'pt-low-envelope',aEnergyStart,aEnergyStep,aEnvLow,xA,yA,.9);

const gB=document.getElementById('marksB');
drawComponent(gB,'w-top-blue-5-2',37,bTopBlue1,bBaseTopE,bBaseTopV,xB,yB,BLUE_LINE,BLUE_FILL);
drawComponent(gB,'w-top-red-5-2',35.5,bTopRed1,bBaseTopE,bBaseTopV,xB,yB,RED_LINE,RED_FILL);
drawComponent(gB,'w-top-blue-7-2',34,bTopBlue2,bBaseTopE,bBaseTopV,xB,yB,BLUE_LINE,BLUE_FILL);
drawComponent(gB,'w-top-red-7-2',33,bTopRed2,bBaseTopE,bBaseTopV,xB,yB,RED_LINE,RED_FILL);
drawBaseline(gB,'w-top-baseline',bBaseTopE,bBaseTopV,xB,yB,'#4da3dc',1.6);
drawEnvelope(gB,'w-top-envelope',bEnergyStart,bEnergyStep,bEnvTop,xB,yB,.75);
drawComponent(gB,'w-low-blue-5-2',36.5,bLowBlue1,bBaseLowE,bBaseLowV,xB,yB,BLUE_LINE,BLUE_FILL);
drawComponent(gB,'w-low-red-5-2',35,bLowRed1,bBaseLowE,bBaseLowV,xB,yB,RED_LINE,RED_FILL);
drawComponent(gB,'w-low-blue-7-2',34,bLowBlue2,bBaseLowE,bBaseLowV,xB,yB,BLUE_LINE,BLUE_FILL);
drawComponent(gB,'w-low-red-7-2',33,bLowRed2,bBaseLowE,bBaseLowV,xB,yB,RED_LINE,RED_FILL);
drawBaseline(gB,'w-low-baseline',bBaseLowE,bBaseLowV,xB,yB,'#4da3dc',1.6);
drawEnvelope(gB,'w-low-envelope',bEnergyStart,bEnergyStep,bEnvLow,xB,yB,.75);

const rGrid=gridOf(0,.1,61);
const gC=document.getElementById('marksC');
drawLine(gC,'series-pt-foil',rGrid,cPtFoil,xC,yC,'#777',2.2);
drawLine(gC,'series-pto2',rGrid,cPtO2,xC,yC,'#f0b295',2.2);
drawLine(gC,'series-fenipb',rGrid,cFeNiPB,xC,yC,'#4db2e8',2.2);
drawLine(gC,'series-feniwpb',rGrid,cFeNiWPB,xC,yC,'#e8393c',2.2);

const gD=document.getElementById('marksD');
const measuredPts=drawLine(gD,'series-measured',rGrid,dMeasured,xD,yD,'#555',1.1);
resample(measuredPts,1.9).forEach(p=>{
  const c=add('circle',{cx:p[0].toFixed(2),cy:p[1].toFixed(2),r:1.5,fill:'#8a8a8a',stroke:'#555','stroke-width':.4},gD);
  
  
});
drawLine(gD,'series-fit',rGrid,dFit,xD,yD,'#e8393c',1.2);

const gE=document.getElementById('marksE');
drawLine(gE,'series-e-pto2',eEnergy,ePtO2,xE,yE,'#f0b295',2.3);
drawLine(gE,'series-e-pt-foil',eEnergy,ePtFoil,xE,yE,'#777',2.3);
drawLine(gE,'series-e-fenipb',eEnergy,eFeNiPB,xE,yE,'#4db2e8',2.3);
drawLine(gE,'series-e-feniwpb',eEnergy,eFeNiWPB,xE,yE,'#e8393c',2.3);

drawFrame(frameA,xA,yA,{xMajor:aTickLabels,xMinor:aMinorTicks,xLabelY:297.3,fs:15});
drawFrame(frameB,xB,yB,{xMajor:bTickLabels,xMinor:bMinorTicks,xLabelY:299.3,fs:15});
drawFrame(frameC,xC,yC,{xMajor:cTickX,xMinor:cMinorX,xLabelY:555,fs:15,yMajor:cTickY,yMinor:cMinorY,yLabelX:76.7});
drawFrame(frameD,xD,yD,{xMajor:dTickX,xMinor:dMinorX,xLabelY:555,fs:15,yMajor:dTickY,yMinor:dMinorY,yLabelX:399.5});
drawFrame(frameE,xE,yE,{xMajor:eTickX,xMinor:eMinorX.filter(v=>xE(v)>frameE.l),xLabelY:556,fs:14,yMajor:eTickY,yMinor:eMinorY,yLabelX:708,yFixed:1});
drawFrame(frameF,xF,yF,{xMajor:hmTickK,xMinor:hmMinorK,xLabelY:846.7,fs:14.5,yMajor:fgTickR,yMinor:fgMinorR,yLabelX:73.3,stroke:'#3c6f8a',sw:1});
drawFrame(frameG,xG,yG,{xMajor:hmTickK,xMinor:hmMinorK,xLabelY:846.7,fs:14.5,yMajor:fgTickR,yMinor:fgMinorR,yLabelX:394,stroke:'#3c6f8a',sw:1});
drawFrame(frameH,xH,yH,{xMajor:hmTickK,xMinor:hmMinorK,xLabelY:846.7,fs:14.5,yMajor:hTickR,yMinor:hMinorR,yLabelX:705,stroke:'#3c6f8a',sw:1});

paintHeatmap('hmF',fGrid);
paintHeatmap('hmG',gGrid);
paintHeatmap('hmH',hGrid);
</script>
</body>
</html>
